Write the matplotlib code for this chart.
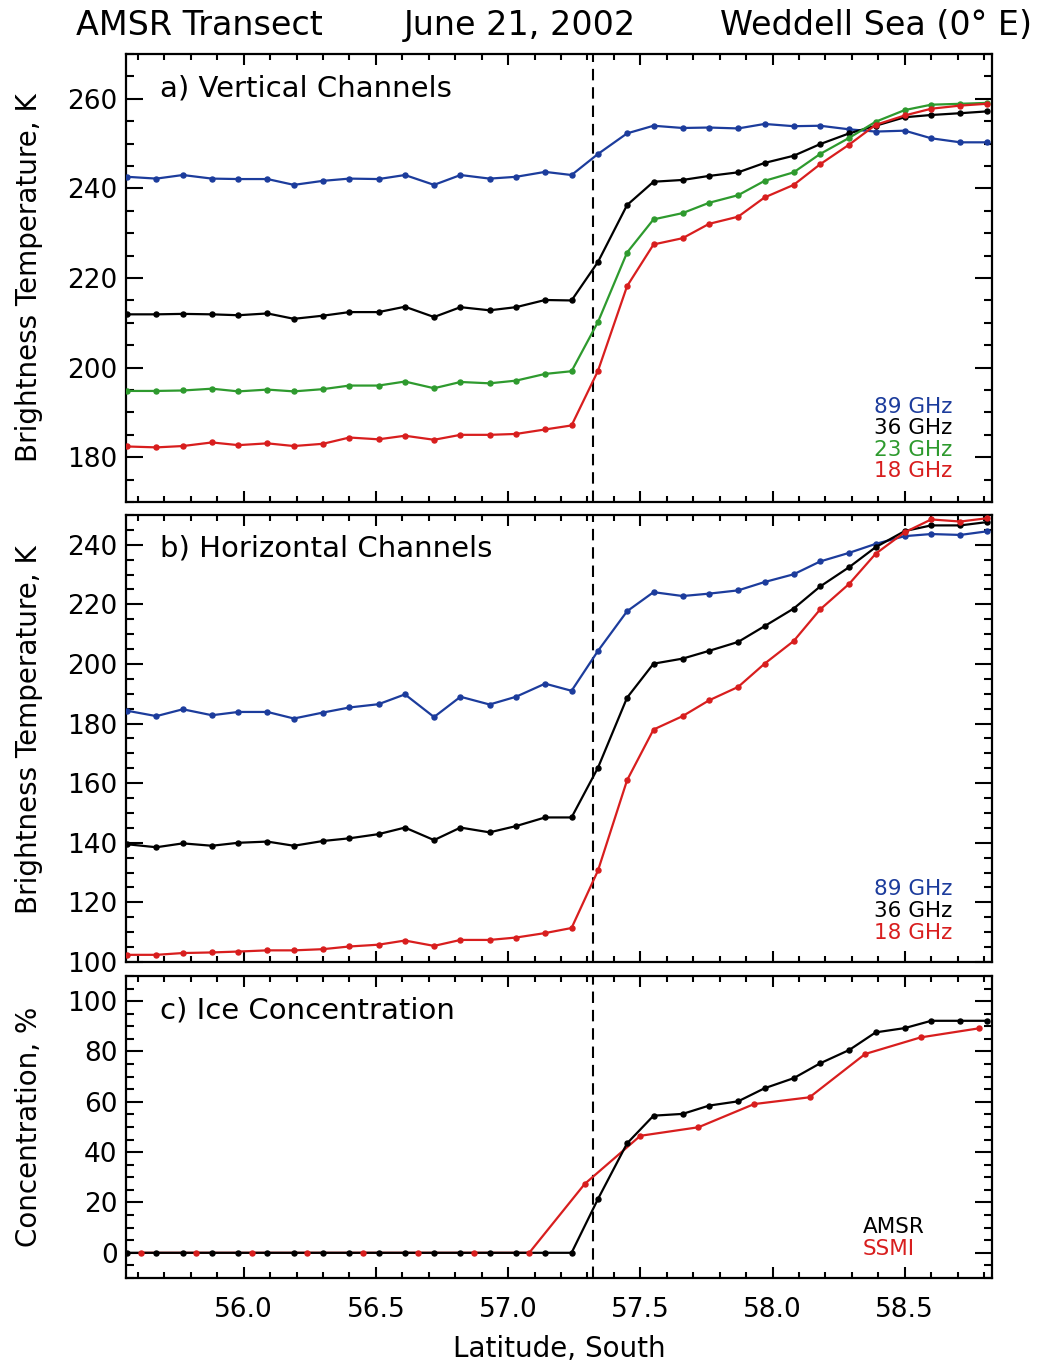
import matplotlib
matplotlib.use("Agg")
import matplotlib.pyplot as plt
from matplotlib.ticker import MultipleLocator

#======================================================================#
## data
lat_amsr = [55.56, 55.67, 55.77, 55.88, 55.98, 56.09, 56.19, 56.30, 56.40, 56.51, 56.61,
            56.72, 56.82, 56.93, 57.03, 57.14, 57.24, 57.34, 57.45, 57.55, 57.66, 57.76,
            57.87, 57.97, 58.08, 58.18, 58.29, 58.39, 58.50, 58.60, 58.71, 58.81]

tb_89v = [242.6, 242.2, 243.0, 242.2, 242.1, 242.1, 240.8, 241.7, 242.2, 242.1, 243.0,
          240.8, 243.0, 242.2, 242.6, 243.7, 243.0, 247.7, 252.3, 254.0, 253.5, 253.6,
          253.4, 254.4, 253.9, 254.0, 253.2, 252.7, 252.9, 251.2, 250.3, 250.3]
tb_36v = [211.9, 211.9, 212.0, 211.9, 211.7, 212.1, 210.9, 211.6, 212.4, 212.4, 213.6,
          211.3, 213.5, 212.8, 213.5, 215.1, 215.0, 223.6, 236.3, 241.5, 241.9, 242.8,
          243.6, 245.7, 247.3, 249.9, 252.3, 254.0, 255.9, 256.4, 256.8, 257.2]
tb_23v = [194.8, 194.8, 194.9, 195.3, 194.7, 195.1, 194.7, 195.2, 196.0, 196.0, 196.9,
          195.4, 196.8, 196.5, 197.1, 198.6, 199.2, 210.2, 225.7, 233.1, 234.5, 236.8,
          238.5, 241.7, 243.6, 247.7, 251.3, 254.9, 257.5, 258.7, 258.9, 259.1]
tb_18v = [182.4, 182.2, 182.5, 183.3, 182.7, 183.1, 182.5, 183.0, 184.4, 184.0, 184.8,
          183.9, 185.0, 185.0, 185.2, 186.2, 187.1, 199.3, 218.2, 227.5, 228.9, 232.1,
          233.7, 238.0, 240.8, 245.4, 249.8, 254.2, 256.3, 257.8, 258.5, 258.9]

tb_89h = [184.3, 182.5, 184.8, 182.8, 183.9, 183.9, 181.7, 183.7, 185.4, 186.5, 189.8,
          182.2, 189.0, 186.4, 189.0, 193.4, 191.0, 204.4, 217.7, 224.1, 222.8, 223.6,
          224.7, 227.5, 230.1, 234.4, 237.3, 240.3, 242.9, 243.6, 243.3, 244.5]
tb_36h = [139.5, 138.5, 139.8, 139.0, 140.0, 140.4, 139.0, 140.6, 141.5, 142.9, 145.1,
          140.9, 145.1, 143.5, 145.6, 148.5, 148.5, 165.2, 188.7, 200.1, 201.8, 204.4,
          207.4, 212.7, 218.6, 226.0, 232.5, 239.2, 244.6, 246.5, 246.5, 247.6]
tb_18h = [102.4, 102.4, 103.0, 103.2, 103.5, 103.9, 103.9, 104.3, 105.2, 105.8, 107.2,
          105.4, 107.4, 107.4, 108.2, 109.7, 111.4, 130.7, 161.0, 178.0, 182.5, 187.8,
          192.3, 200.1, 207.7, 218.3, 226.9, 237.0, 244.2, 248.5, 247.8, 248.9]

ice_amsr = [0, 0, 0, 0, 0, 0, 0, 0, 0, 0, 0, 0, 0, 0, 0, 0, 0,
            21.4, 43.5, 54.5, 55.2, 58.5, 60.2, 65.4, 69.4, 75.3, 80.6, 87.6, 89.3, 92.2, 92.2, 92.2]

lat_ssmi = [55.61, 55.82, 56.03, 56.24, 56.45, 56.66, 56.87, 57.08,
            57.29, 57.50, 57.72, 57.93, 58.14, 58.35, 58.56, 58.78]
ice_ssmi = [0, 0, 0, 0, 0, 0, 0, 0, 27.4, 46.5, 49.9, 59.1, 61.8, 79.0, 85.6, 89.2]

ice_edge = 57.32
#======================================================================#
## plot parameters
c_blue = '#1c3c9c'
c_black = 'black'
c_green = '#2e9a2e'
c_red = '#d81e1e'
lw_line = 1.6
ms = 3.6
fs_tick = 19
fs_lab = 20
fs_leg = 15.5
#======================================================================#

def style_axis(ax, ymin, ymax, ymaj):
    ax.set_xlim(55.555, 58.83)
    ax.set_ylim(ymin, ymax)
    ax.xaxis.set_major_locator(MultipleLocator(0.5))
    ax.xaxis.set_minor_locator(MultipleLocator(0.1))
    ax.yaxis.set_major_locator(MultipleLocator(ymaj))
    ax.yaxis.set_minor_locator(MultipleLocator(5))
    ax.tick_params(axis='both', which='both', direction='in', top=True, right=True,
                   width=1.5, labelsize=fs_tick)
    ax.tick_params(axis='x', which='major', length=8, pad=14)
    ax.tick_params(axis='x', which='minor', length=4)
    ax.tick_params(axis='y', which='major', length=12, pad=6)
    ax.tick_params(axis='y', which='minor', length=6)
    for sp in ax.spines.values():
        sp.set_linewidth(1.6)
    ax.axvline(ice_edge, color='black', lw=1.5, dashes=(5.5, 3.3), zorder=1)


def main():
    fig = plt.figure(figsize=(10.55, 13.62), dpi=100)
    left, width = 0.1194, 0.8209
    ax_a = fig.add_axes([left, 0.6314, width, 0.3289])
    ax_b = fig.add_axes([left, 0.2937, width, 0.3282])
    ax_c = fig.add_axes([left, 0.0617, width, 0.2217])

    # a) vertical channels
    for tb, col in [(tb_89v, c_blue), (tb_36v, c_black), (tb_23v, c_green), (tb_18v, c_red)]:
        ax_a.plot(lat_amsr, tb, color=col, lw=lw_line, marker='o', ms=ms, zorder=3)
    style_axis(ax_a, 170, 270, 20)
    ax_a.tick_params(axis='x', labelbottom=False)
    ax_a.text(0.039, 0.924, 'a) Vertical Channels', transform=ax_a.transAxes,
              fontsize=21, va='center', ha='left')
    for txt, col, yy in [('89 GHz', c_blue, 0.212), ('36 GHz', c_black, 0.165),
                         ('23 GHz', c_green, 0.116), ('18 GHz', c_red, 0.069)]:
        ax_a.text(0.954, yy, txt, color=col, fontsize=fs_leg, ha='right', va='center',
                  transform=ax_a.transAxes)

    # b) horizontal channels
    for tb, col in [(tb_89h, c_blue), (tb_36h, c_black), (tb_18h, c_red)]:
        ax_b.plot(lat_amsr, tb, color=col, lw=lw_line, marker='o', ms=ms, zorder=3)
    style_axis(ax_b, 100, 250, 20)
    ax_b.tick_params(axis='x', labelbottom=False)
    ax_b.text(0.039, 0.924, 'b) Horizontal Channels', transform=ax_b.transAxes,
              fontsize=21, va='center', ha='left')
    for txt, col, yy in [('89 GHz', c_blue, 0.163), ('36 GHz', c_black, 0.114),
                         ('18 GHz', c_red, 0.065)]:
        ax_b.text(0.954, yy, txt, color=col, fontsize=fs_leg, ha='right', va='center',
                  transform=ax_b.transAxes)

    # c) ice concentration
    ax_c.plot(lat_ssmi, ice_ssmi, color=c_red, lw=lw_line, zorder=2)
    ax_c.plot(lat_amsr, ice_amsr, color=c_black, lw=lw_line, marker='o', ms=ms, zorder=3)
    ax_c.plot(lat_ssmi, ice_ssmi, color=c_red, ls='none', marker='o', ms=ms, zorder=4)
    style_axis(ax_c, -10, 110, 20)
    ax_c.text(0.039, 0.887, 'c) Ice Concentration', transform=ax_c.transAxes,
              fontsize=21, va='center', ha='left')
    ax_c.text(0.851, 0.169, 'AMSR', color=c_black, fontsize=fs_leg, ha='left', va='center',
              transform=ax_c.transAxes)
    ax_c.text(0.851, 0.096, 'SSMI', color=c_red, fontsize=fs_leg, ha='left', va='center',
              transform=ax_c.transAxes)
    ax_c.set_xticks([56.0, 56.5, 57.0, 57.5, 58.0, 58.5])
    ax_c.set_xticklabels(['56.0', '56.5', '57.0', '57.5', '58.0', '58.5'])
    ax_c.set_xlabel('Latitude, South', fontsize=fs_lab, labelpad=8)

    ax_a.set_ylabel('Brightness Temperature, K', fontsize=fs_lab)
    ax_b.set_ylabel('Brightness Temperature, K', fontsize=fs_lab)
    ax_c.set_ylabel('Concentration, %', fontsize=fs_lab)
    ax_a.yaxis.set_label_coords(-0.096, 0.5)
    ax_b.yaxis.set_label_coords(-0.096, 0.52)
    ax_c.yaxis.set_label_coords(-0.096, 0.5)

    # title line
    fig.text(0.1886, 0.9816, 'AMSR Transect', fontsize=24, ha='center', va='center')
    fig.text(0.4929, 0.9816, 'June 21, 2002', fontsize=24, ha='center', va='center')
    fig.text(0.830, 0.9816, 'Weddell Sea (0° E)', fontsize=24, ha='center', va='center')

    fig.savefig('out.png', dpi=100)
    plt.close(fig)


if __name__ == '__main__':
    main()
